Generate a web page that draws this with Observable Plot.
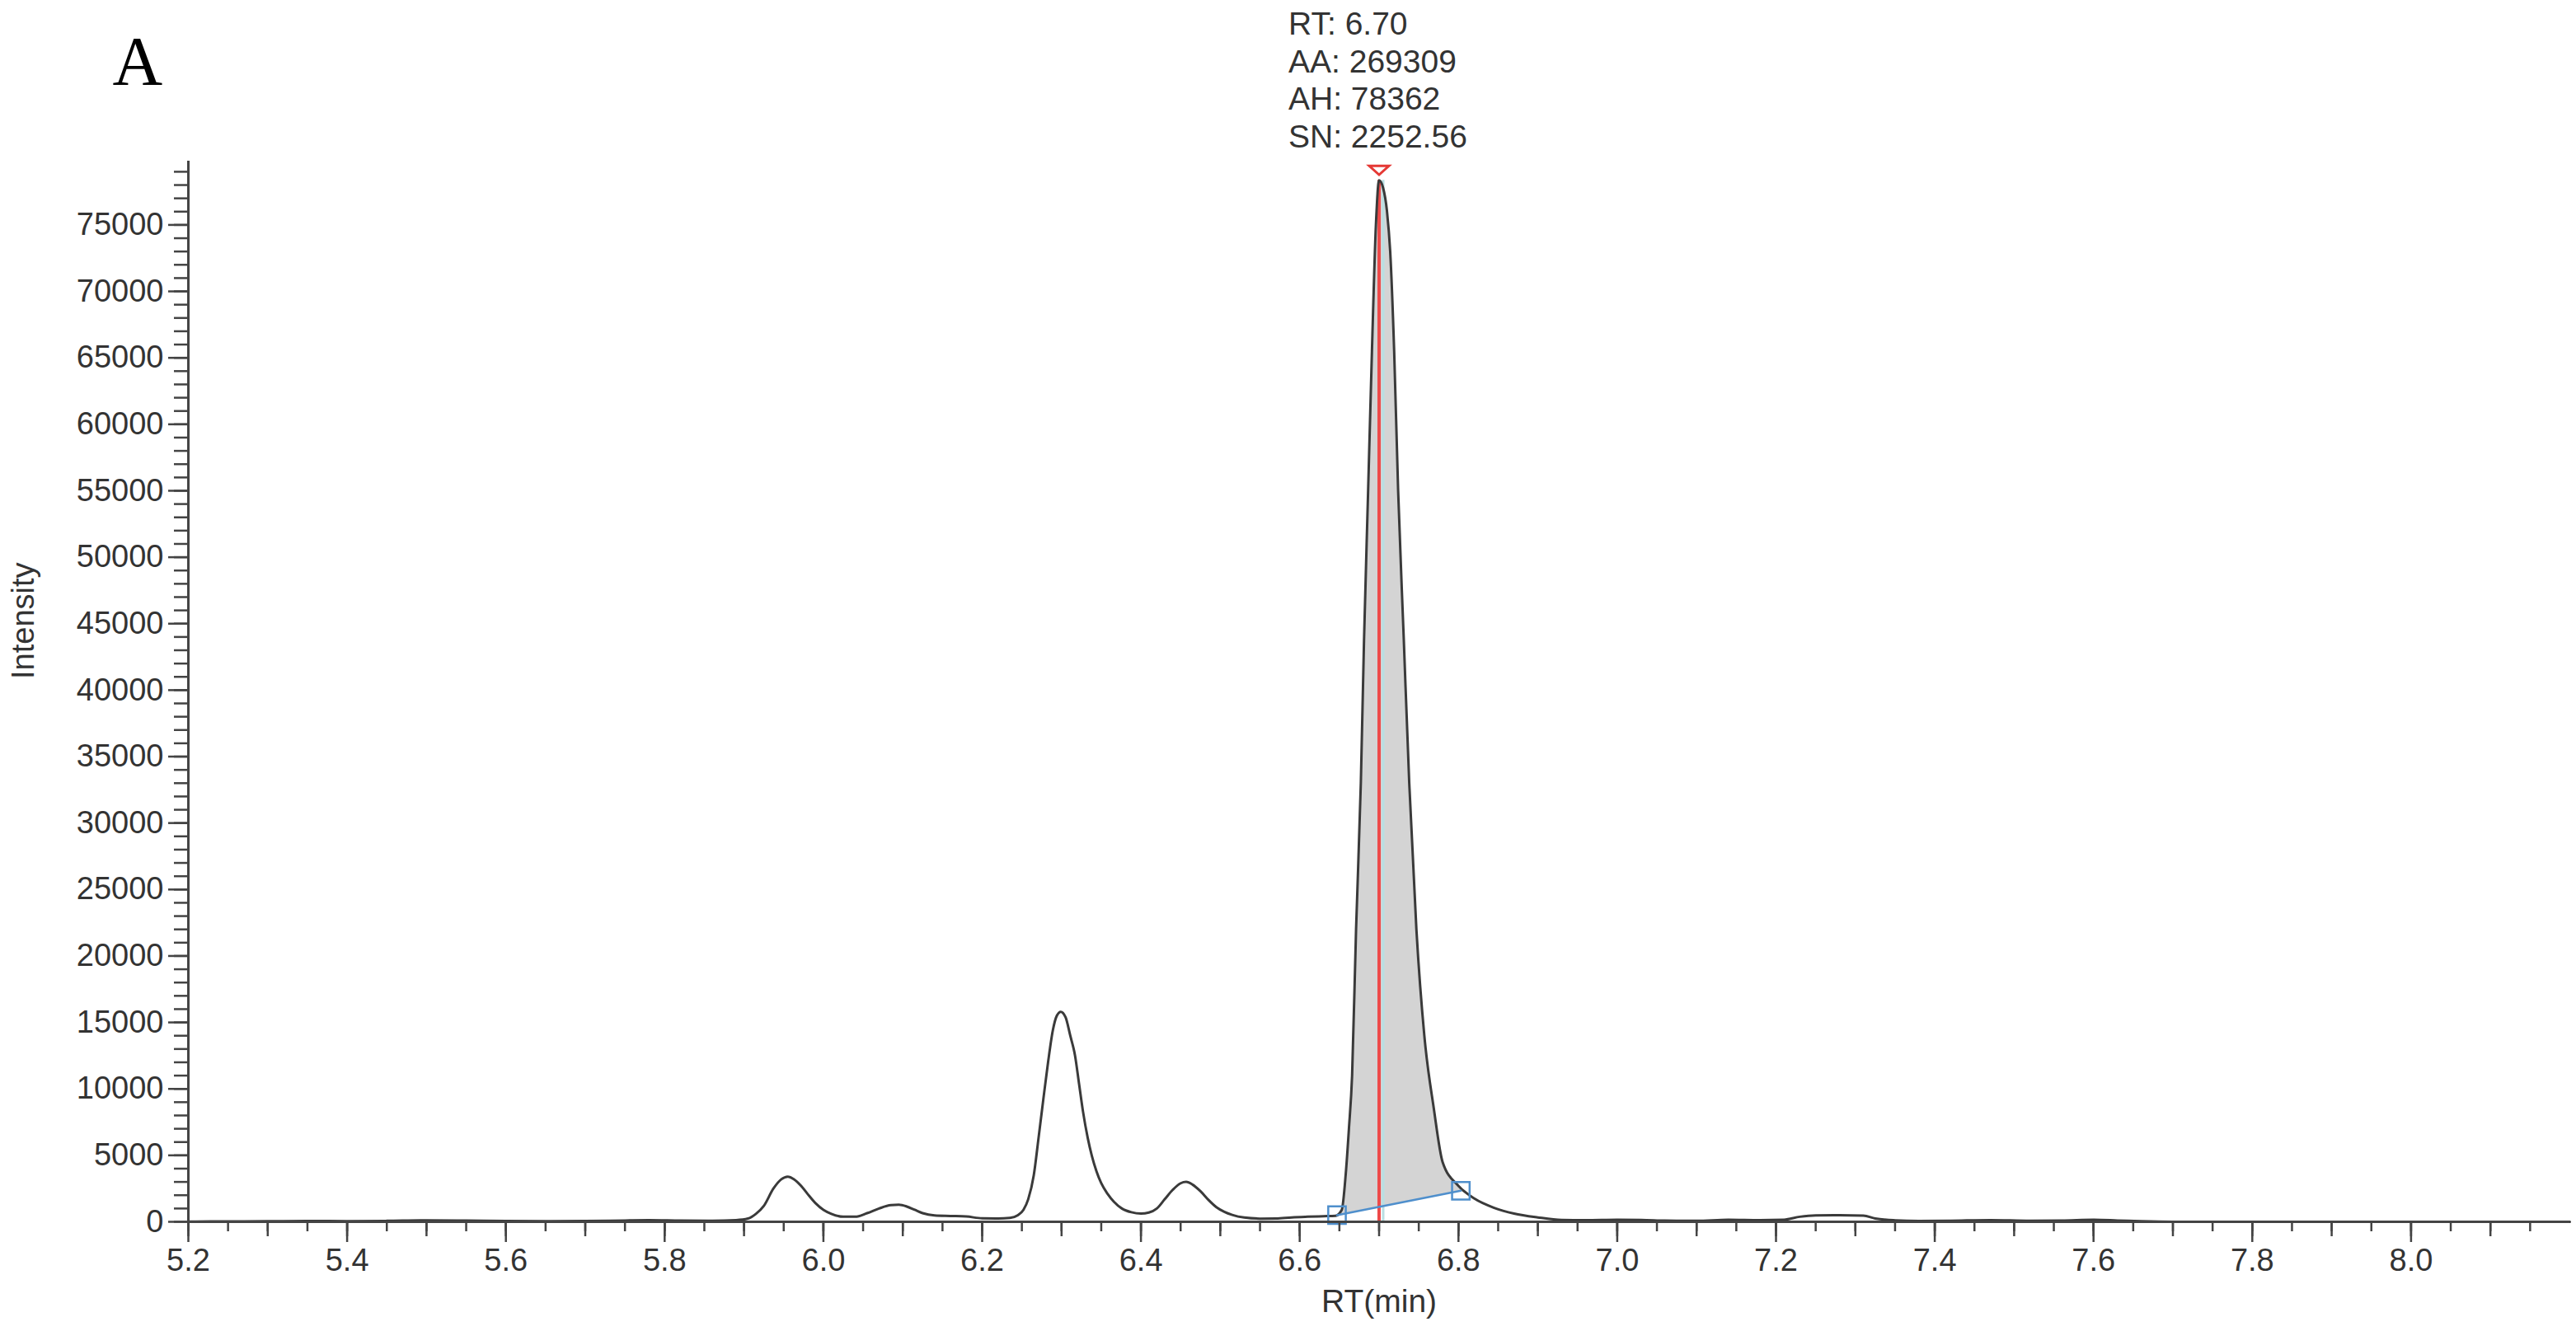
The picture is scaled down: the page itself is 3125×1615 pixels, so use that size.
<!DOCTYPE html>
<html>
<head>
<meta charset="utf-8">
<script src="https://cdn.jsdelivr.net/npm/d3@7"></script>
<script src="https://cdn.jsdelivr.net/npm/@observablehq/plot@0.6"></script>
<style>
  html, body { margin: 0; padding: 0; background: #fff; }
  #chart svg { display: block; }
</style>
</head>
<body>
<div id="chart"></div>
<script>
// ---- Data ----
const rt = [
  5.20, 5.25, 5.30, 5.35, 5.40, 5.45, 5.50, 5.55, 5.60, 5.65, 5.70, 5.75, 5.78, 5.82, 5.86, 5.89,
  5.905, 5.915, 5.925, 5.937, 5.947, 5.955, 5.963, 5.972, 5.98, 5.99, 6.00, 6.01, 6.025, 6.04,
  6.055, 6.07, 6.085, 6.095, 6.105, 6.115, 6.125, 6.14, 6.16, 6.18, 6.20, 6.22, 6.235, 6.245,
  6.252, 6.258, 6.265, 6.271, 6.277, 6.283, 6.289, 6.294, 6.299, 6.305, 6.311, 6.317, 6.322,
  6.327, 6.333, 6.338, 6.344, 6.35, 6.358, 6.366, 6.376, 6.388, 6.40, 6.41, 6.42, 6.43, 6.44,
  6.45, 6.457, 6.465, 6.475, 6.485, 6.495, 6.505, 6.515, 6.53, 6.55, 6.57, 6.59, 6.61, 6.63,
  6.645, 6.653, 6.658, 6.662, 6.666, 6.671, 6.677, 6.681, 6.686, 6.691, 6.696, 6.70, 6.705, 6.71,
  6.714, 6.719, 6.724, 6.731, 6.738, 6.747, 6.757, 6.769, 6.78, 6.80, 6.82, 6.845, 6.87, 6.90,
  6.93, 6.96, 7.00, 7.03, 7.06, 7.10, 7.14, 7.18, 7.21, 7.23, 7.25, 7.28, 7.31, 7.325, 7.35,
  7.38, 7.42, 7.47, 7.52, 7.56, 7.60, 7.63, 7.66, 7.70, 7.80, 7.90, 8.00, 8.10, 8.20
];
const intensity = [
  20, 30, 40, 60, 50, 70, 110, 90, 60, 50, 60, 100, 120, 90, 80, 130,
  250, 600, 1200, 2500, 3200, 3400, 3200, 2700, 2100, 1400, 900, 600, 380, 380,
  650, 1000, 1250, 1280, 1150, 900, 650, 480, 440, 400, 260, 250, 300, 500,
  900, 1700, 3500, 6300, 9200, 12000, 14400, 15500, 15800, 15400, 14000, 12500, 10400,
  8300, 6300, 5000, 3800, 2900, 2100, 1500, 1000, 720, 620, 700, 1000, 1700, 2400,
  2900, 3000, 2800, 2300, 1650, 1100, 750, 520, 320, 240, 250, 330, 380, 420,
  450, 900, 3600, 7000, 11000, 22000, 33000, 43700, 54600, 65500, 75000, 78362, 77800, 76000,
  73000, 65500, 55000, 44000, 33000, 22000, 14000, 8500, 4500, 2700, 1750, 1050, 620, 330,
  140, 120, 150, 140, 90, 70, 160, 130, 160, 380, 480, 490, 460, 250, 110,
  60, 80, 130, 80, 90, 150, 100, 40, 0, 0, 0, 0, 0, 0
];

const xTickLabels = [5.2, 5.4, 5.6, 5.8, 6.0, 6.2, 6.4, 6.6, 6.8, 7.0, 7.2, 7.4, 7.6, 7.8, 8.0];
const yTickLabels = [0, 5000, 10000, 15000, 20000, 25000, 30000, 35000, 40000, 45000, 50000, 55000, 60000, 65000, 70000, 75000];

const peakRT = 6.70;
const peakHeight = 78362;
const integrationStart = [6.647, 500];
const integrationEnd = [6.803, 2340];
const annotLines = ["RT: 6.70", "AA: 269309", "AH: 78362", "SN: 2252.56"];
const panelLabel = "A";
const xLabel = "RT(min)";
const yLabel = "Intensity";

// ---- Derived tables ----
const trace = rt.map((x, i) => ({rt: x, value: intensity[i]}));
const baseAt = d3.scaleLinear().domain([integrationStart[0], integrationEnd[0]]).range([integrationStart[1], integrationEnd[1]]);
const curveAt = d3.scaleLinear().domain(rt).range(intensity);
const fillRows = [
  {rt: integrationStart[0], base: integrationStart[1], value: curveAt(integrationStart[0])},
  ...trace.filter(d => d.rt > integrationStart[0] && d.rt < integrationEnd[0]).map(d => ({rt: d.rt, base: baseAt(d.rt), value: d.value})),
  {rt: integrationEnd[0], base: integrationEnd[1], value: curveAt(integrationEnd[0])}
];
const xMinor = d3.range(104, 164).map(i => i / 20);
const xMid = d3.range(52, 82).map(i => i / 10);
const yMinor = d3.range(0, 80).map(i => i * 1000);

const axisColor = "#444";
const textColor = "#333";
const flatTriangle = {
  draw(ctx, size) {
    const w = Math.sqrt(size) * 0.75;
    ctx.moveTo(-w, -w * 0.45);
    ctx.lineTo(w, -w * 0.45);
    ctx.lineTo(0, w * 0.45);
    ctx.closePath();
  }
};

const chart = Plot.plot({
  width: 3125,
  height: 1615,
  marginLeft: 228,
  marginRight: 8,
  marginTop: 195,
  marginBottom: 133,
  style: {fontFamily: "'Liberation Sans', Arial, sans-serif", background: "#fff", overflow: "visible"},
  x: {domain: [5.2, 8.2]},
  y: {domain: [0, 79800]},
  marks: [
    // integrated area
    Plot.areaY(fillRows, {x: "rt", y1: "base", y2: "value", fill: "#d4d4d4", curve: "monotone-x"}),
    // peak marker lines
    Plot.ruleX([peakRT], {y1: 0, y2: peakHeight, stroke: "#b9dfe3", strokeWidth: 3, dx: 5}),
    Plot.ruleX([peakRT], {y1: 0, y2: peakHeight, stroke: "#ee4a4a", strokeWidth: 4}),
    // chromatogram trace
    Plot.line(trace, {x: "rt", y: "value", stroke: "#3a3a3a", strokeWidth: 3, curve: "monotone-x"}),
    // integration baseline
    Plot.line([integrationStart, integrationEnd], {x: d => d[0], y: d => d[1], stroke: "#4f8fcc", strokeWidth: 2.5}),
    Plot.dot([integrationStart, integrationEnd], {x: d => d[0], y: d => d[1], symbol: "square", r: 12, stroke: "#4f8fcc", strokeWidth: 2.5, fill: "none"}),
    Plot.dot([peakRT], {x: d => d, y: [peakHeight], symbol: flatTriangle, r: 9, stroke: "#e53935", strokeWidth: 3, fill: "none", dy: -12}),
    // axes lines
    Plot.ruleX([5.2], {y1: 0, y2: 79800, stroke: axisColor, strokeWidth: 3}),
    Plot.ruleY([0], {x1: 5.2, x2: 8.2, stroke: axisColor, strokeWidth: 3}),
    // y axis ticks
    Plot.axisY(yMinor, {tickSize: 17, tickFormat: () => "", stroke: axisColor, strokeWidth: 2.5, label: null}),
    Plot.axisY(yTickLabels, {tickSize: 24, tickPadding: 6, tickFormat: d => String(d), fontSize: 38, fill: textColor, stroke: axisColor, strokeWidth: 2.5, label: null}),
    // x axis ticks
    Plot.axisX(xMinor, {tickSize: 12, tickFormat: () => "", stroke: axisColor, strokeWidth: 2.5, label: null}),
    Plot.axisX(xMid, {tickSize: 18, tickFormat: () => "", stroke: axisColor, strokeWidth: 2.5, label: null}),
    Plot.axisX(xTickLabels, {tickSize: 25, tickPadding: 8, tickFormat: d3.format(".1f"), fontSize: 38, fill: textColor, stroke: axisColor, strokeWidth: 2.5, label: null}),
    // axis titles
    Plot.text([xLabel], {frameAnchor: "bottom", text: d => d, dy: 97, fontSize: 39, fill: textColor, lineAnchor: "middle"}),
    Plot.text([yLabel], {frameAnchor: "left", text: d => d, dx: -200, dy: -15, rotate: -90, fontSize: 38, fill: textColor, lineAnchor: "middle"}),
    // peak annotation
    Plot.text([annotLines.join("\n")], {x: [peakRT], frameAnchor: "top", text: d => d, dx: -110, dy: -186, textAnchor: "start", lineAnchor: "top", lineHeight: 1.17, fontSize: 39, fill: textColor}),
    // panel label
    Plot.text([panelLabel], {frameAnchor: "top-left", text: d => d, dx: -92, dy: -119, textAnchor: "start", lineAnchor: "middle", fontSize: 84, fontFamily: "'Liberation Serif', 'Times New Roman', serif", fill: "#000"})
  ]
});
document.getElementById("chart").appendChild(chart);
</script>
</body>
</html>
